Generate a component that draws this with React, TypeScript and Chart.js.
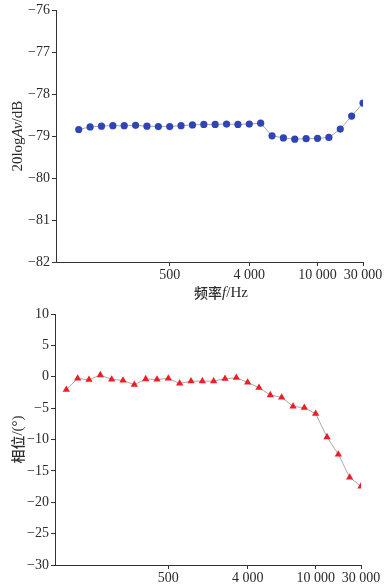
import React, { useEffect, useRef } from "react";
import { Chart, registerables } from "chart.js";

Chart.register(...registerables);

// Frequencies (Hz) for each measurement index
const frequencies = [
  20, 50, 80, 100, 150, 200, 250, 300, 400, 500, 1000, 1500, 2000, 2500, 3000,
  3500, 4000, 5000, 6000, 7000, 8000, 9000, 10000, 15000, 20000, 25000, 30000,
];
const tickFrequencies = [500, 4000, 10000, 30000];

// 20logAv (dB)
const gainDb = [
  null, -78.84, -78.78, -78.76, -78.75, -78.75, -78.74, -78.76, -78.77, -78.77,
  -78.75, -78.73, -78.72, -78.72, -78.71, -78.72, -78.71, -78.69, -78.99, -79.04,
  -79.07, -79.06, -79.05, -79.03, -78.83, -78.52, -78.21,
];

// Phase (degrees)
const phaseDeg = [
  -2.07, -0.27, -0.48, 0.27, -0.42, -0.58, -1.27, -0.37, -0.42, -0.27, -1.06,
  -0.72, -0.69, -0.69, -0.32, -0.16, -0.9, -1.75, -2.92, -3.29, -4.72, -4.94,
  -5.89, -9.61, -12.37, -16.03, -17.46,
];

const gainTicks = { min: -82, max: -76, step: 1 };
const phaseTicks = { min: -30, max: 10, step: 5 };

const SERIF = "'Liberation Serif', 'DejaVu Serif', serif";
const CJK = "'Noto Sans CJK SC', sans-serif";
const TEXT = "#2b2b2b";

type Seg = { t: string; font: string };

function drawRich(ctx: CanvasRenderingContext2D, segs: Seg[], cx: number, cy: number, rotate: boolean) {
  ctx.save();
  ctx.fillStyle = TEXT;
  ctx.textBaseline = "middle";
  ctx.textAlign = "left";
  let total = 0;
  for (const s of segs) {
    ctx.font = s.font;
    total += ctx.measureText(s.t).width;
  }
  ctx.translate(cx, cy);
  if (rotate) ctx.rotate(-Math.PI / 2);
  let x = -total / 2;
  for (const s of segs) {
    ctx.font = s.font;
    ctx.fillText(s.t, x, 0);
    x += ctx.measureText(s.t).width;
  }
  ctx.restore();
}

function fmt(n: number) {
  return String(n).replace(/\B(?=(\d{3})+(?!\d))/g, " ");
}
function minus(v: number) {
  return v < 0 ? "\u2212" + Math.abs(v) : String(v);
}

function makeConfig(
  values: (number | null)[],
  yr: { min: number; max: number; step: number },
  color: string,
  pointStyle: string,
  radius: number,
  padding: any,
  yWidth: number,
  xHeight: number,
  titles: { yTitle: Seg[]; xTitle?: Seg[]; yX: number; xTitlePos?: [number, number] }
): any {
  const data = values.map((v, i) => ({ x: i, y: v }));
  const tickIdx = tickFrequencies.map((f) => frequencies.indexOf(f));
  return {
    type: "line",
    data: {
      datasets: [
        {
          data,
          borderColor: "#a8a8a8",
          borderWidth: 1,
          backgroundColor: color,
          pointBackgroundColor: color,
          pointBorderColor: color,
          pointBorderWidth: 0,
          pointStyle,
          pointRadius: radius,
          spanGaps: false,
          tension: 0,
        },
      ],
    },
    options: {
      animation: false,
      responsive: false,
      events: [],
      layout: { padding },
      plugins: { legend: { display: false }, tooltip: { enabled: false } },
      scales: {
        x: {
          type: "linear",
          min: -1,
          max: frequencies.length - 1,
          afterBuildTicks: (scale: any) => {
            scale.ticks = tickIdx.map((v) => ({ value: v }));
          },
          afterFit: (scale: any) => {
            scale.height = xHeight;
          },
          ticks: {
            autoSkip: false,
            maxRotation: 0,
            padding: 1,
            color: TEXT,
            font: { family: SERIF, size: 14 },
            callback: (v: number) => fmt(frequencies[v]),
          },
          grid: { drawOnChartArea: false, drawTicks: true, tickLength: 4, color: "#333" },
          border: { display: true, color: "#333", width: 1 },
        },
        y: {
          type: "linear",
          min: yr.min,
          max: yr.max,
          afterFit: (scale: any) => {
            scale.width = yWidth;
          },
          ticks: {
            stepSize: yr.step,
            padding: 2,
            color: TEXT,
            font: { family: SERIF, size: 14 },
            callback: (v: number) => minus(v),
          },
          grid: { drawOnChartArea: false, drawTicks: true, tickLength: 4, color: "#333" },
          border: { display: true, color: "#333", width: 1 },
        },
      },
    },
    plugins: [
      {
        id: "titles",
        afterDraw: (chart: any) => {
          const ctx = chart.ctx;
          const a = chart.chartArea;
          drawRich(ctx, titles.yTitle, titles.yX, (a.top + a.bottom) / 2, true);
          if (titles.xTitle && titles.xTitlePos) {
            drawRich(ctx, titles.xTitle, titles.xTitlePos[0], titles.xTitlePos[1], false);
          }
        },
      },
    ],
  };
}

function ChartCanvas({ config, width, height, top }: { config: any; width: number; height: number; top: number }) {
  const ref = useRef<HTMLCanvasElement>(null);
  useEffect(() => {
    if (!ref.current) return;
    const c = new Chart(ref.current, config);
    return () => c.destroy();
  }, [config]);
  return (
    <canvas
      ref={ref}
      width={width}
      height={height}
      style={{ position: "absolute", left: 0, top, width, height }}
    />
  );
}

const topConfig = makeConfig(
  gainDb,
  gainTicks,
  "#2f45b5",
  "circle",
  3.6,
  { left: 0, right: 28, top: 10, bottom: 0 },
  56,
  38,
  {
    yTitle: [
      { t: "20log", font: `15px ${SERIF}` },
      { t: "Av", font: `italic 15px ${SERIF}` },
      { t: "/dB", font: `15px ${SERIF}` },
    ],
    yX: 18,
    xTitle: [
      { t: "频率", font: `500 14px ${CJK}` },
      { t: "f", font: `italic 15px ${SERIF}` },
      { t: "/Hz", font: `15px ${SERIF}` },
    ],
    xTitlePos: [221, 293],
  }
);

const bottomConfig = makeConfig(
  phaseDeg,
  phaseTicks,
  "#ee1c25",
  "triangle",
  4.2,
  { left: 0, right: 30, top: 14, bottom: 0 },
  55,
  19,
  {
    yTitle: [
      { t: "相位", font: `500 14px ${CJK}` },
      { t: "/(°)", font: `15px ${SERIF}` },
    ],
    yX: 18,
  }
);

export default function App() {
  return (
    <div style={{ position: "fixed", left: 0, top: 0, width: 391, height: 584, background: "#fff" }}>
      <ChartCanvas config={topConfig} width={391} height={300} top={0} />
      <ChartCanvas config={bottomConfig} width={391} height={284} top={300} />
    </div>
  );
}
